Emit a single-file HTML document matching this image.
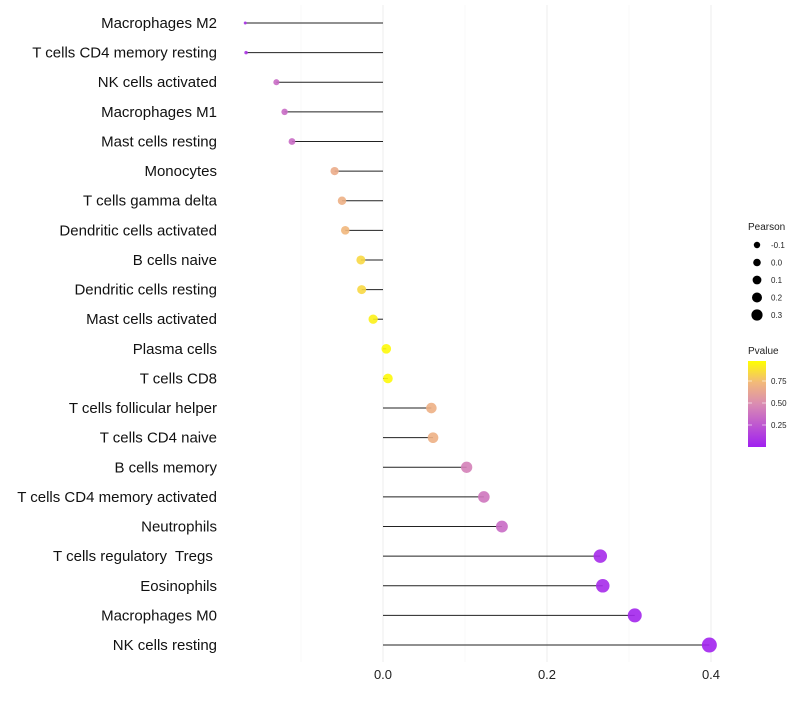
<!DOCTYPE html>
<html><head><meta charset="utf-8"><style>
body{margin:0;background:#fff;font-family:"Liberation Sans",sans-serif}
</style></head><body>
<svg id="chart" width="800" height="700" xmlns="http://www.w3.org/2000/svg" font-family="Liberation Sans, sans-serif"></svg>
<script>
const categories=["Macrophages M2","T cells CD4 memory resting","NK cells activated","Macrophages M1","Mast cells resting","Monocytes","T cells gamma delta","Dendritic cells activated","B cells naive","Dendritic cells resting","Mast cells activated","Plasma cells","T cells CD8","T cells follicular helper","T cells CD4 naive","B cells memory","T cells CD4 memory activated","Neutrophils","T cells regulatory  Tregs ","Eosinophils","Macrophages M0","NK cells resting"];
const pearson=[-0.168,-0.167,-0.130,-0.120,-0.111,-0.059,-0.050,-0.046,-0.027,-0.026,-0.012,0.004,0.006,0.059,0.061,0.102,0.123,0.145,0.265,0.268,0.307,0.398];
const pvalue=[0.08,0.1,0.35,0.35,0.35,0.68,0.7,0.74,0.86,0.86,0.95,0.98,0.98,0.7,0.7,0.45,0.4,0.35,0.05,0.05,0.03,0.02];
const xTicks=[0,0.2,0.4];
const xMinor=[-0.1,0.1,0.3];
const sizeLegend=[-0.1,0.0,0.1,0.2,0.3];
const colorTicks=[0.25,0.5,0.75];

const svg=document.getElementById('chart');
const NS="http://www.w3.org/2000/svg";
function mk(t,a,p){const e=document.createElementNS(NS,t);for(const k in a)e.setAttribute(k,a[k]);(p||svg).appendChild(e);return e;}
const x=v=>383+v*820;
const y=i=>23+i*29.62;
const pmin=Math.min(...pearson),pmax=Math.max(...pearson);
const r=v=>1.5+6*Math.sqrt(Math.max(0,(v-pmin)/(pmax-pmin)));
const stops=[[0,[160,32,240]],[0.5,[218,140,178]],[0.75,[242,185,122]],[1,[255,255,0]]];
function col(p){for(let i=1;i<stops.length;i++){if(p<=stops[i][0]){const a=stops[i-1],b=stops[i],t=(p-a[0])/(b[0]-a[0]);const c=a[1].map((v,k)=>Math.round(v+(b[1][k]-v)*t));return `rgb(${c})`;}}return 'rgb(255,255,0)';}

[...xTicks,...xMinor].forEach(v=>{const l=mk('line',{x1:x(v),x2:x(v),y1:5,y2:662,stroke:xTicks.includes(v)?'#ececec':'#f5f5f5','stroke-width':xTicks.includes(v)?1:0.6});
});
xTicks.forEach(v=>{const t=mk('text',{x:x(v),y:679,'font-size':13,'text-anchor':'middle',fill:'#222'});t.textContent=v.toFixed(1);
});

categories.forEach((c,i)=>{
 const t=mk('text',{x:217,y:y(i)+5,'font-size':15,'text-anchor':'end',fill:'#111',style:'white-space:pre'});t.textContent=c;
 
 const l=mk('line',{x1:x(0),x2:x(pearson[i]),y1:y(i),y2:y(i),stroke:'#222','stroke-width':1});
 
 const d=mk('circle',{cx:x(pearson[i]),cy:y(i),r:r(pearson[i]),fill:col(pvalue[i]),'fill-opacity':0.9});
 
});

const lt=mk('text',{x:748,y:230,'font-size':10,fill:'#222'});lt.textContent='Pearson';

const lr=[3.2,3.8,4.4,5,5.6];
sizeLegend.forEach((v,i)=>{const cy=245+i*17.5;
 const c=mk('circle',{cx:757,cy:cy,r:lr[i],fill:'#000'});
 const t=mk('text',{x:771,y:cy+3,'font-size':8,fill:'#222'});t.textContent=v.toFixed(1);
 });

const ct=mk('text',{x:748,y:354,'font-size':10,fill:'#222'});ct.textContent='Pvalue';

const defs=mk('defs',{});const g=mk('linearGradient',{id:'pg',x1:0,y1:1,x2:0,y2:0},defs);
stops.forEach(s=>mk('stop',{offset:s[0],'stop-color':col(s[0])},g));
const bar=mk('rect',{x:748,y:361,width:18,height:86,fill:'url(#pg)'});

const cy=p=>447-p*88;
colorTicks.forEach(p=>{
 mk('line',{x1:748,x2:752,y1:cy(p),y2:cy(p),stroke:'#fff','stroke-width':0.6});
 mk('line',{x1:762,x2:766,y1:cy(p),y2:cy(p),stroke:'#fff','stroke-width':0.6});
 const t=mk('text',{x:771,y:cy(p)+3,'font-size':8,fill:'#222'});t.textContent=p.toFixed(2);
 });
</script>
</body></html>
